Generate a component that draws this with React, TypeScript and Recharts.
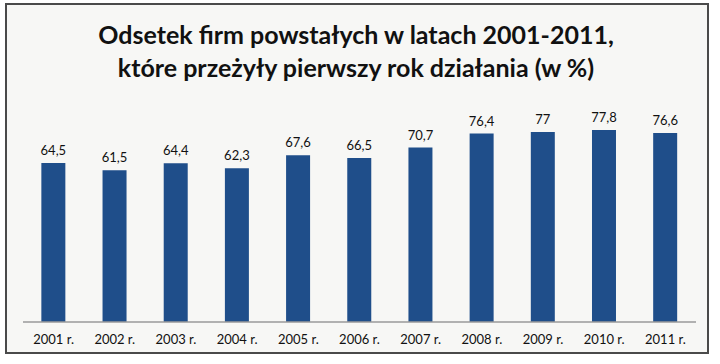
import React from "react";
import { BarChart, Bar, XAxis, YAxis, LabelList } from "recharts";

const years = ["2001 r.", "2002 r.", "2003 r.", "2004 r.", "2005 r.", "2006 r.", "2007 r.", "2008 r.", "2009 r.", "2010 r.", "2011 r."];
const values = [64.5, 61.5, 64.4, 62.3, 67.6, 66.5, 70.7, 76.4, 77, 77.8, 76.6];
const titleLines = ["Odsetek firm powstałych w latach 2001-2011,", "które przeżyły pierwszy rok działania (w %)"];

const data = years.map((y, i) => ({ year: y, value: values[i] }));

const fmt = (v: any) => String(v).replace(".", ",");

export default function App() {
  return (
    <div style={{ position: "absolute", left: 0, top: 0, width: 720, height: 364, background: "#ffffff", overflow: "hidden" }}>
      <div style={{ position: "absolute", left: 5, top: 3, width: 700, height: 347, border: "2px solid #4a4a4a", background: "#f7f7f5" }} />
      <div style={{ position: "absolute", left: 0, top: 18, width: 712, textAlign: "center", fontFamily: "Lato, 'Open Sans', sans-serif", fontWeight: 700, fontSize: 25, lineHeight: "33px", color: "#111" }}>
        {titleLines.map((t, i) => (<div key={i}>{t}</div>))}
      </div>
      <div style={{ position: "absolute", left: 0, top: 0 }}>
        <BarChart width={720} height={364} data={data} margin={{ top: 100, right: 24, bottom: 12, left: 23 }} barCategoryGap="30%">
          <XAxis dataKey="year" axisLine={{ stroke: "#9a9a9a", strokeWidth: 1.5 }} tickLine={false} tickSize={0} tickMargin={13} interval={0}
            tick={{ fill: "#111", fontSize: 13, fontFamily: "Lato, 'Open Sans', sans-serif" }} height={30} />
          <YAxis hide domain={[0, 90]} />
          <Bar dataKey="value" fill="#1f4e8a" isAnimationActive={false}>
            <LabelList dataKey="value" position="top" offset={8} formatter={fmt} style={{ fill: "#111", fontSize: 13, fontFamily: "Lato, 'Open Sans', sans-serif" }} />
          </Bar>
        </BarChart>
      </div>
    </div>
  );
}
